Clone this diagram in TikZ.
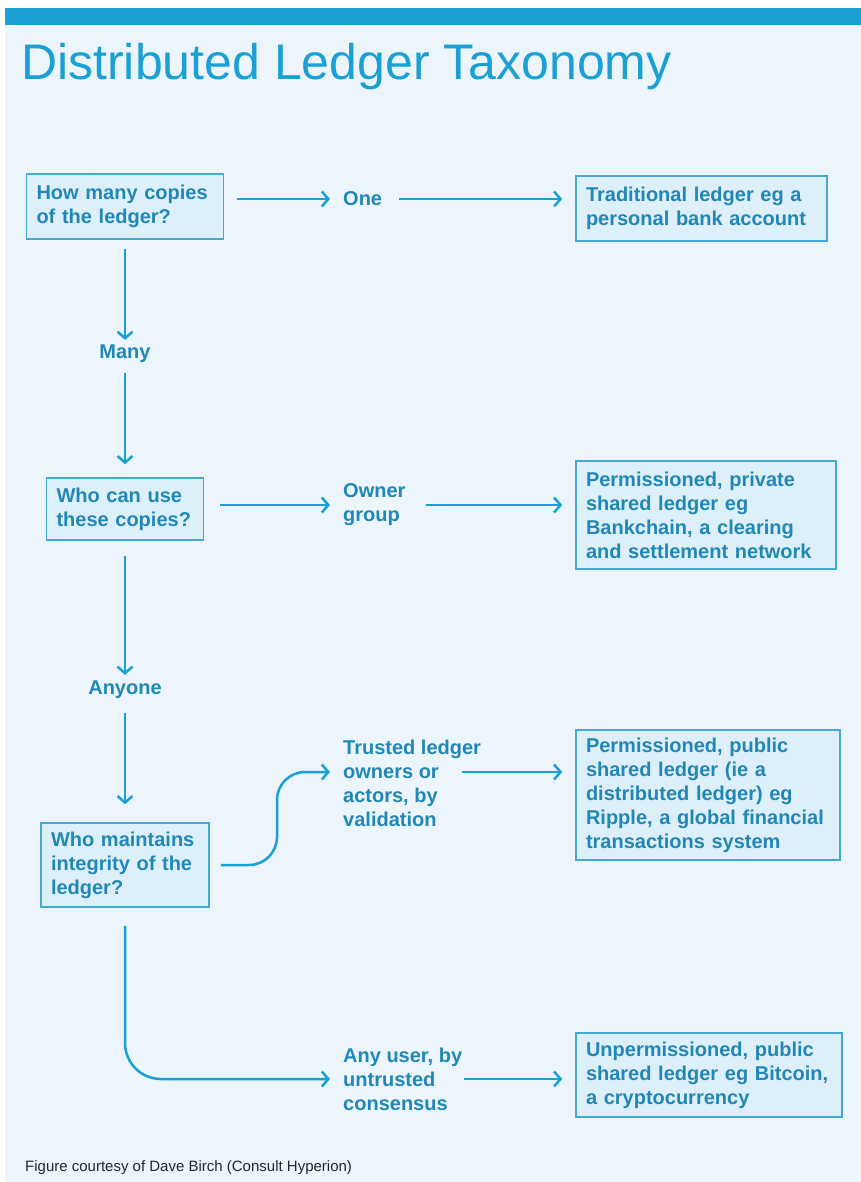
\documentclass[tikz,border=0pt]{standalone}
\usepackage{fontspec}
\setmainfont{Liberation Sans}
\usetikzlibrary{arrows.meta}

\definecolor{dlcyan}{HTML}{1BA0D5}
\definecolor{dlbg}{HTML}{EBF5FB}
\definecolor{dlfill}{HTML}{DDEFF9}
\definecolor{dlborder}{HTML}{45A9D6}
\definecolor{dltext}{HTML}{2187B7}

\tikzset{
    dl box/.style={draw=dlborder, line width=1.6pt, fill=dlfill,
                   text=dltext, align=left, inner xsep=10pt, inner ysep=0pt,
                   font=\fontsize{20}{24}\selectfont\bfseries},
    dl label/.style={text=dltext, align=left, inner sep=0pt,
                     font=\fontsize{20}{24}\selectfont\bfseries},
    dl arrow/.style={-{Straight Barb[length=6.5pt, width=15pt]}, line width=2.5pt,
                     dlcyan, shorten <=13pt, shorten >=13pt},
}

\begin{document}
\begin{tikzpicture}[x=1pt, y=-1pt]
    % Page, top band and title
    \useasboundingbox (0,0) rectangle (861,1182);
    \fill[white] (0,0) rectangle (861,1182);
    \fill[dlbg] (5,8) rectangle (861,1182);
    \fill[dlcyan] (5,8) rectangle (861,25);
    \node[anchor=base west, inner sep=0pt, text=dlcyan,
          font=\fontsize{50}{50}\selectfont] (title) at (21,80)
          {Distributed Ledger Taxonomy};

    % Questions down the left side
    \node[dl box, text width=177pt, minimum height=65pt] (copies) at (125,206.5)
          {How many copies\\of the ledger?};
    \node[dl box, text width=137pt, minimum height=62pt] (use) at (125,509)
          {Who can use\\these copies?};
    \node[dl box, text width=148pt, minimum height=84pt] (integrity) at (125,865)
          {Who maintains\\integrity of the\\ledger?};

    % Answers
    \node[dl label] (many) at (125,354) {Many};
    \node[dl label] (anyone) at (125,690) {Anyone};
    \node[dl label, anchor=west] (one) at (343,199) {One};
    \node[dl label, anchor=west] (owner) at (343,505) {Owner\\group};
    \node[dl label, anchor=west] (trusted) at (343,783)
          {Trusted ledger\\owners or\\actors, by\\validation};
    \node[dl label, anchor=west] (anyuser) at (343,1079)
          {Any user, by\\untrusted\\consensus};
    \path (trusted.west) ++(0,-11) coordinate (trustedin)
          ++(119,0) coordinate (trustedout);

    % Kinds of ledger
    \node[dl box, text width=231pt, minimum height=65pt] (traditional) at (701.5,208.5)
          {Traditional ledger eg a\\personal bank account};
    \node[dl box, text width=240pt, minimum height=108pt] (private) at (706,515)
          {Permissioned, private\\shared ledger eg\\Bankchain, a clearing\\and settlement network};
    \node[dl box, text width=244pt, minimum height=130pt] (public) at (708,795)
          {Permissioned, public\\shared ledger (ie a\\distributed ledger) eg\\Ripple, a global financial\\transactions system};
    \node[dl box, text width=246pt, minimum height=84pt] (unperm) at (709,1075)
          {Unpermissioned, public\\shared ledger eg Bitcoin,\\a cryptocurrency};

    % Flow
    \draw[dl arrow] (copies.east |- one.west) -- (one.west);
    \draw[dl arrow, shorten <=17pt] (one.east) -- (traditional.west |- one.east);
    \draw[dl arrow, shorten <=9pt, shorten >=5pt] (copies.south) -- (many.north);
    \draw[dl arrow, shorten <=10pt] (many.south) -- (use.north);
    \draw[dl arrow, shorten <=15pt, shorten >=6pt] (use.south) -- (anyone.north);
    \draw[dl arrow, shorten <=14pt, shorten >=18pt] (anyone.south) -- (integrity.north);
    \draw[dl arrow, shorten <=16pt] (use.east |- owner.west) -- (owner.west);
    \draw[dl arrow, shorten <=20pt] (owner.east) -- (private.west |- owner.east);
    \draw[dl arrow, shorten <=11pt, rounded corners=28pt] (integrity.east)
          -- (277,865) -- (277,772) -- (trustedin);
    \draw[dl arrow, shorten <=0pt] (trustedout) -- (public.west |- trustedout);
    \draw[dl arrow, shorten <=18pt, rounded corners=36pt] (integrity.south)
          |- (anyuser.west);
    \draw[dl arrow, shorten <=2pt] (anyuser.east) -- (unperm.west |- anyuser.east);

    % Credit line
    \node[anchor=base west, inner sep=0pt, text=black!85,
          font=\fontsize{15}{15}\selectfont] (credit) at (25,1171)
          {Figure courtesy of Dave Birch (Consult Hyperion)};
\end{tikzpicture}
\end{document}
